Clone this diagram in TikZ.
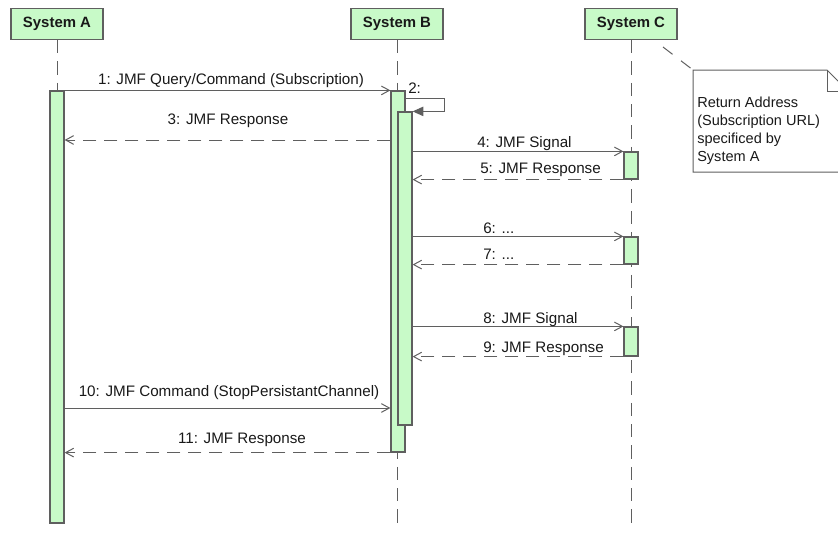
\documentclass[tikz,border=0pt]{standalone}
\usepackage{fontspec}
\setmainfont{Liberation Sans}
\usetikzlibrary{arrows.meta,fit}
\definecolor{actfill}{RGB}{200,250,200}
\definecolor{linegray}{RGB}{95,95,95}
\definecolor{boxline}{RGB}{95,95,95}
\definecolor{txt}{RGB}{25,25,25}
\begin{document}
\begin{tikzpicture}[x=0.75pt,y=-0.75pt,
  header/.style={draw=boxline, line width=0.9pt, fill=actfill, minimum width=69pt,
    minimum height=23.25pt, inner sep=0pt, font=\fontsize{11.2}{13}\selectfont\bfseries, text=txt},
  lifeline/.style={draw=linegray, line width=0.75pt, dash pattern=on 10pt off 6pt},
  act/.style={draw=boxline, line width=0.9pt, fill=actfill, inner sep=0pt},
  msg/.style={draw=linegray, line width=0.75pt, -{Straight Barb[length=6pt,width=6.5pt]}},
  reply/.style={msg, dash pattern=on 9.75pt off 6pt},
  selfmsg/.style={draw=linegray, line width=0.75pt, -{Triangle[length=8pt,width=7pt]}},
  lbl/.style={font=\fontsize{11.4}{13.5}\selectfont, text=txt, inner sep=0pt},
  notetext/.style={font=\fontsize{10.9}{13.5}\selectfont, text=txt, inner sep=0pt},
  notelink/.style={draw=linegray, line width=0.75pt, dash pattern=on 9pt off 8pt},
  notebox/.style={draw=boxline, line width=0.75pt, fill=white},
]
\useasboundingbox (0,0) rectangle (838,539);
\clip (0,0) rectangle (838,539);

% participants
\node[header] (sysA) at (57,24) {System A};
\node[header] (sysB) at (397,24) {System B};
\node[header] (sysC) at (631,24) {System C};

% lifeline ends
\coordinate (endA) at (57,527);
\coordinate (endB) at (397,525);
\coordinate (endC) at (631,525);
\draw[lifeline] (sysA.south) -- (endA);
\draw[lifeline] (sysB.south) -- (endB);
\draw[lifeline] (sysC.south) -- (endC);

% activation bars
\node[act, fit={(50,91) (64,523)}] (actA) {};
\node[act, fit={(391,91) (405,452)}] (actB1) {};
\node[act, fit={(398,112) (412,425)}] (actB2) {};
\node[act, fit={(624,152) (638,179)}] (actC1) {};
\node[act, fit={(624,237) (638,264)}] (actC2) {};
\node[act, fit={(624,327) (638,356)}] (actC3) {};

% message levels
\coordinate (m2) at (444,98);
\coordinate (m3) at (0,140);
\coordinate (m10) at (0,408);

% messages
\draw[msg] (actA.north east) -- (actB1.north west);
\node[lbl, anchor=base] (l1) at (231,84) {1: JMF Query/Command (Subscription)};

\draw[selfmsg] (actB1.east |- m2) -- (m2) -- (m2 |- actB2.north) -- (actB2.north east);
\node[lbl, anchor=base west] (l2) at (408,93) {2:};

\draw[reply] (actB1.west |- m3) -- (actA.east |- m3);
\node[lbl, anchor=base] (l3) at (228,124) {3: JMF Response};

\draw[msg] (actB2.east |- actC1.north) -- (actC1.north west);
\node[lbl, anchor=base west] (l4) at (477,147) {4: JMF Signal};

\draw[reply] (actC1.south west) -- (actB2.east |- actC1.south);
\node[lbl, anchor=base west] (l5) at (480,173) {5: JMF Response};

\draw[msg] (actB2.east |- actC2.north) -- (actC2.north west);
\node[lbl, anchor=base west] (l6) at (483,233) {6: ...};

\draw[reply] (actC2.south west) -- (actB2.east |- actC2.south);
\node[lbl, anchor=base west] (l7) at (483,259) {7: ...};

\draw[msg] (actB2.east |- actC3.north) -- (actC3.north west);
\node[lbl, anchor=base west] (l8) at (483,323) {8: JMF Signal};

\draw[reply] (actC3.south west) -- (actB2.east |- actC3.south);
\node[lbl, anchor=base west] (l9) at (483,352) {9: JMF Response};

\draw[msg] (actA.east |- m10) -- (actB1.west |- m10);
\node[lbl, anchor=base] (l10) at (229,396) {10: JMF Command (StopPersistantChannel)};

\draw[reply] (actB1.south west) -- (actA.east |- actB1.south);
\node[lbl, anchor=base] (l11) at (242,443) {11: JMF Response};

% note with folded corner
\coordinate (noteNW) at (693,70);
\coordinate (fold) at (827,70);
\coordinate (noteSE) at (848,172);
\coordinate (linkstart) at (663,47);
\draw[notelink] (linkstart) -- (noteNW);
\draw[notebox] (noteNW) -- (fold) -- (848,91) -- (noteSE) -- (noteNW |- noteSE) -- cycle;
\draw[boxline, line width=0.75pt] (fold) -- (fold |- 0,91) -- (848,91);
\node[notetext, align=left, anchor=north west] (note) at (697,97)
  {Return Address\\(Subscription URL)\\specificed by\\System A};
\end{tikzpicture}
\end{document}
